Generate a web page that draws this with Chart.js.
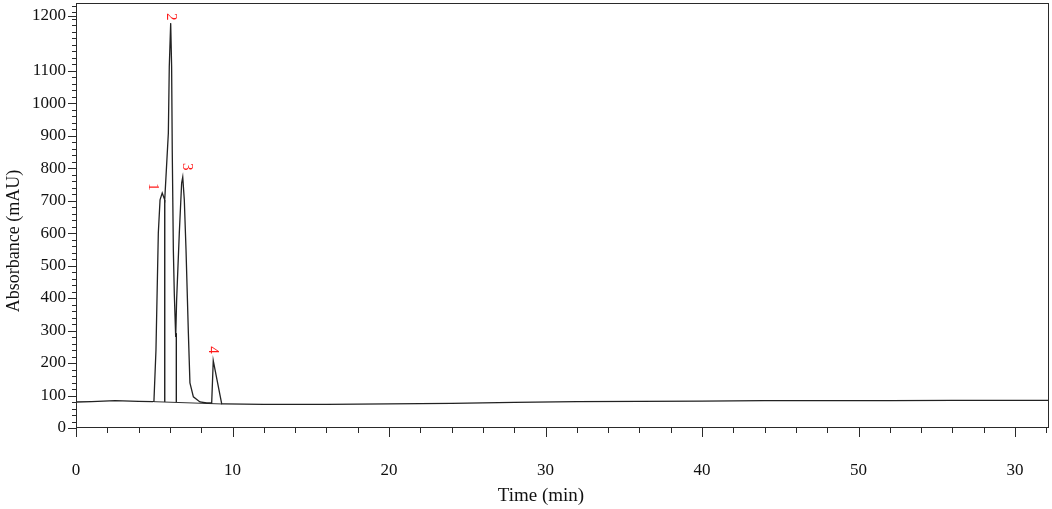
<!DOCTYPE html>
<html>
<head>
<meta charset="utf-8">
<script src="https://cdn.jsdelivr.net/npm/chart.js@4.4.0/dist/chart.umd.min.js"></script>
<style>
body { margin: 0; background: #fff; }
</style>
</head>
<body>
<canvas id="chrom" width="1052" height="509"></canvas>
<script>
// chromatogram trace
var times = [0, 1, 2.5, 4, 4.9, 4.98, 5.11, 5.26, 5.37, 5.51, 5.67, 5.9, 5.96, 6.05, 6.11, 6.15, 6.22, 6.28, 6.37,
             6.43, 6.6, 6.75, 6.82, 6.92, 7.03, 7.18, 7.28, 7.5, 7.92, 8.35, 8.67, 8.77, 9.31,
             9.5, 12, 16, 20, 24, 28, 32, 36, 40, 44, 48, 52, 56, 60, 62.2];
var absorbance = [80, 81, 84, 82, 81, 82, 240, 600, 702, 723, 702, 907, 1111, 1246, 1111, 854, 548, 415, 280,
                  394, 599, 754, 772, 702, 548, 292, 139, 96, 80, 77, 77, 207, 74,
                  74, 73, 73, 74, 76, 79, 81, 82, 83, 84, 84, 84.5, 85, 85, 85];

// integration baseline and drop lines under peaks 1-3
var baseTimes = [4.98, 9.31];
var baseValues = [81, 74];
var dropTimes = [5.67, 6.41];
var dropBottoms = [80, 79];
var dropTops = [702, 292];

// peak numbers
var peakNames = ['1', '2', '3', '4'];
var peakTimes = [4.94, 6.05, 7.07, 8.73];
var peakHeights = [742, 1266, 804, 240];

// axes
var xTickValues = [0, 10, 20, 30, 40, 50, 60];
var xTickLabels = ['0', '10', '20', '30', '40', '50', '30'];
var yTickValues = [0, 100, 200, 300, 400, 500, 600, 700, 800, 900, 1000, 1100, 1268];
var yTickLabels = ['0', '100', '200', '300', '400', '500', '600', '700', '800', '900', '1000', '1100', '1200'];

var serif = "'Liberation Serif', 'DejaVu Serif', serif";

function pts(xs, ys) {
    var out = [];
    for (var i = 0; i < xs.length; i++) out.push({x: xs[i], y: ys[i]});
    return out;
}

var datasets = [{
    data: pts(times, absorbance),
    borderColor: '#222',
    borderWidth: 1.3
}, {
    data: pts(baseTimes, baseValues),
    borderColor: '#333',
    borderWidth: 1
}];
for (var i = 0; i < dropTimes.length; i++) {
    datasets.push({
        data: [{x: dropTimes[i], y: dropBottoms[i]}, {x: dropTimes[i], y: dropTops[i]}],
        borderColor: '#1e1e1e',
        borderWidth: 1.4
    });
}

// frame, tick marks, peak numbers and axis titles
var decor = {
    id: 'decor',
    afterDraw: function(chart) {
        var ctx = chart.ctx, a = chart.chartArea;
        var xs = chart.scales.x, ys = chart.scales.y;
        ctx.save();
        ctx.strokeStyle = '#2a2a2a';
        ctx.lineWidth = 1;
        ctx.strokeRect(a.left + 0.5, a.top + 0.5, a.right - a.left - 1, a.bottom - a.top - 1);

        ctx.beginPath();
        for (var t = 0; t <= 62; t += 2) {
            var px = Math.round(xs.getPixelForValue(t)) + 0.5;
            var len = (t % 10 === 0) ? 9 : 5;
            ctx.moveTo(px, a.bottom);
            ctx.lineTo(px, a.bottom + len);
        }
        for (var v = 0; v <= 1300; v += 20) {
            if (v % 100 === 0 && v <= 1100) continue;
            var py = Math.round(ys.getPixelForValue(v)) + 0.5;
            ctx.moveTo(a.left, py);
            ctx.lineTo(a.left - 4, py);
        }
        yTickValues.forEach(function(val) {
            var py = Math.round(ys.getPixelForValue(val)) + 0.5;
            ctx.moveTo(a.left, py);
            ctx.lineTo(a.left - 8, py);
        });
        ctx.stroke();

        ctx.fillStyle = '#ff1a1a';
        ctx.font = '15px ' + serif;
        ctx.textAlign = 'center';
        ctx.textBaseline = 'middle';
        for (var k = 0; k < peakNames.length; k++) {
            ctx.save();
            ctx.translate(xs.getPixelForValue(peakTimes[k]), ys.getPixelForValue(peakHeights[k]));
            ctx.rotate(Math.PI / 2);
            ctx.fillText(peakNames[k], 0, 0);
            ctx.restore();
        }

        ctx.fillStyle = '#111';
        ctx.font = '19px ' + serif;
        ctx.fillText('Time (min)', 541, 496);
        ctx.save();
        ctx.translate(14, 241);
        ctx.rotate(-Math.PI / 2);
        ctx.font = '18px ' + serif;
        ctx.fillText('Absorbance (mAU)', 0, 0);
        ctx.restore();
        ctx.restore();
    }
};

new Chart(document.getElementById('chrom').getContext('2d'), {
    type: 'line',
    data: {datasets: datasets},
    options: {
        responsive: false,
        animation: false,
        layout: {padding: {top: 3, right: 3, left: 0, bottom: 0}},
        elements: {point: {radius: 0}, line: {tension: 0}},
        plugins: {legend: {display: false}, tooltip: {enabled: false}},
        scales: {
            x: {
                type: 'linear',
                min: 0,
                max: 62.17,
                afterBuildTicks: function(s) { s.ticks = xTickValues.map(function(v) { return {value: v}; }); },
                afterFit: function(s) {
                    s.height = 81;
                    s.paddingLeft = 0;
                    s.paddingRight = 0;
                },
                grid: {display: true, drawOnChartArea: false, drawTicks: false},
                border: {display: false},
                ticks: {
                    autoSkip: false,
                    maxRotation: 0,
                    padding: 32,
                    color: '#111',
                    font: {family: serif, size: 17},
                    callback: function(v, i) { return xTickLabels[i]; }
                }
            },
            y: {
                min: 0,
                max: 1308,
                afterBuildTicks: function(s) { s.ticks = yTickValues.map(function(v) { return {value: v}; }); },
                afterFit: function(s) {
                    s.width = 76;
                    s.paddingTop = 0;
                    s.paddingBottom = 0;
                },
                grid: {display: true, drawOnChartArea: false, drawTicks: false},
                border: {display: false},
                ticks: {
                    autoSkip: false,
                    padding: 10,
                    color: '#111',
                    font: {family: serif, size: 17},
                    callback: function(v, i) { return yTickLabels[i]; }
                }
            }
        }
    },
    plugins: [decor]
});
</script>
</body>
</html>
